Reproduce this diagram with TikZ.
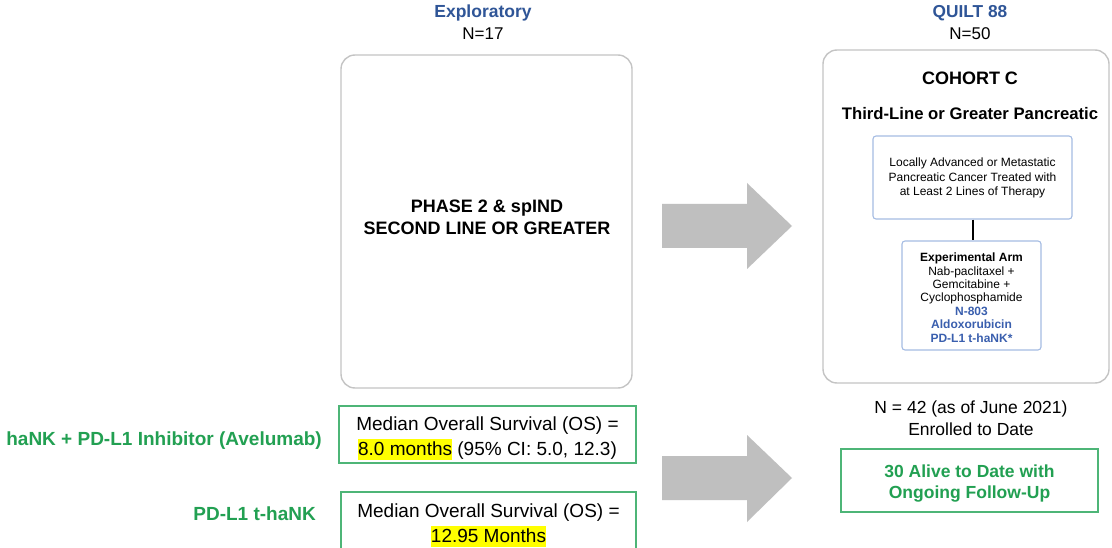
\documentclass[tikz,border=0pt]{standalone}
\usepackage{fontspec}
\setmainfont{Liberation Sans}
\definecolor{titleblue}{HTML}{2F5597}
\definecolor{armblue}{HTML}{3A5FAE}
\definecolor{labelgreen}{HTML}{22A052}
\definecolor{boxgreen}{HTML}{4DB577}
\definecolor{panelgray}{HTML}{C4C4C4}
\definecolor{arrowgray}{HTML}{BFBFBF}
\definecolor{innerblue}{HTML}{A5BCE3}
\definecolor{hiyellow}{HTML}{FFFF00}
% yellow marker behind a highlighted value
\newcommand{\hlite}[1]{{\setlength{\fboxsep}{0pt}\colorbox{hiyellow}{\rule[-5pt]{0pt}{21pt}#1}}}
\begin{document}
\begin{tikzpicture}[x=1pt,y=-1pt,
  panel/.style={draw=panelgray,line width=1.4pt,rounded corners=14pt,inner sep=0pt},
  innerbox/.style={draw=innerblue,line width=1.1pt,rounded corners=3pt,inner sep=0pt},
  greenbox/.style={draw=boxgreen,line width=1.5pt,inner sep=0pt},
  txt/.style={inner sep=0pt,align=center,anchor=base},
  blockarrow/.style={fill=arrowgray}]
\useasboundingbox (0,0) rectangle (1112,548);
\fill[white] (0,0) rectangle (1112,548);

% column headings (multi-line texts are placed by their last baseline)
\node[txt,font=\bfseries\fontsize{17.5}{21}\selectfont,text=titleblue] (explT) at (483,18) {Exploratory};
\node[txt,font=\fontsize{17}{21}\selectfont] (explN) at (483,40) {N=17};
\node[txt,font=\bfseries\fontsize{17.3}{21}\selectfont,text=titleblue] (quiltT) at (970,18) {QUILT 88};
\node[txt,font=\fontsize{17}{21}\selectfont] (quiltN) at (970,40) {N=50};

% exploratory panel
\node[panel,minimum width=291pt,minimum height=333pt] (expl) at (486.5,221.5) {};
\node[txt,font=\bfseries\fontsize{18}{22}\selectfont] (phase) at (487,235) {PHASE 2 \& spIND\\SECOND LINE OR GREATER};

% QUILT 88 panel
\node[panel,minimum width=286pt,minimum height=333pt] (quilt) at (966,216.5) {};
\node[txt,font=\bfseries\fontsize{18}{22}\selectfont] (cohort) at (970,85) {COHORT C};
\node[txt,font=\bfseries\fontsize{16.7}{20}\selectfont] (third) at (970,120) {Third-Line or Greater Pancreatic};
\node[innerbox,minimum width=199pt,minimum height=83pt] (elig) at (972.5,177.5) {};
\node[txt,font=\fontsize{12}{14.5}\selectfont] (eligT) at (972.5,196) {Locally Advanced or Metastatic\\Pancreatic Cancer Treated with\\at Least 2 Lines of Therapy};
\node[innerbox,minimum width=139pt,minimum height=109pt] (arm) at (971.5,295.5) {};
\node[txt,font=\fontsize{12}{13.4}\selectfont] (armT) at (971.5,342)
  {\textbf{Experimental Arm}\\Nab-paclitaxel +\\Gemcitabine +\\Cyclophosphamide\\
   \textcolor{armblue}{\textbf{N-803}}\\\textcolor{armblue}{\textbf{Aldoxorubicin}}\\\textcolor{armblue}{\textbf{PD-L1 t-haNK*}}};
\draw[line width=2pt] (elig.south) -- (elig.south |- arm.north);

% block arrows between the columns
\fill[blockarrow] (662,204) -- (747,204) -- (747,183) -- (792,226) -- (747,269) -- (747,248) -- (662,248) -- cycle;
\fill[blockarrow] (662,456) -- (747,456) -- (747,435) -- (792,478) -- (747,522) -- (747,500) -- (662,500) -- cycle;

% enrolment and follow-up
\node[txt,font=\fontsize{17.5}{22}\selectfont] (enrol) at (971,435) {N = 42 (as of June 2021)\\Enrolled to Date};
\node[greenbox,minimum width=257pt,minimum height=63pt] (alive) at (969.5,480.5) {};
\node[txt,font=\bfseries\fontsize{17.5}{21}\selectfont,text=labelgreen] (aliveT) at (969.5,498) {30 Alive to Date with\\Ongoing Follow-Up};

% survival results of the exploratory arms
\node[greenbox,minimum width=297pt,minimum height=57pt] (os1) at (487.5,434.5) {};
\node[txt,font=\fontsize{19}{25}\selectfont] (os1T) at (487.5,455) {Median Overall Survival (OS) =\\\hlite{8.0 months} (95\% CI: 5.0, 12.3)};
\node[greenbox,minimum width=295pt,minimum height=68pt] (os2) at (488.5,526) {};
\node[txt,font=\fontsize{19}{25}\selectfont] (os2T) at (488.5,542) {Median Overall Survival (OS) =\\\hlite{12.95 Months}};
\node[inner sep=0pt,anchor=base east,font=\bfseries\fontsize{19}{23}\selectfont,text=labelgreen] (lab1) at (322,445) {haNK + PD-L1 Inhibitor (Avelumab)};
\node[inner sep=0pt,anchor=base east,font=\bfseries\fontsize{19}{23}\selectfont,text=labelgreen] (lab2) at (316,520) {PD-L1 t-haNK};
\end{tikzpicture}
\end{document}
